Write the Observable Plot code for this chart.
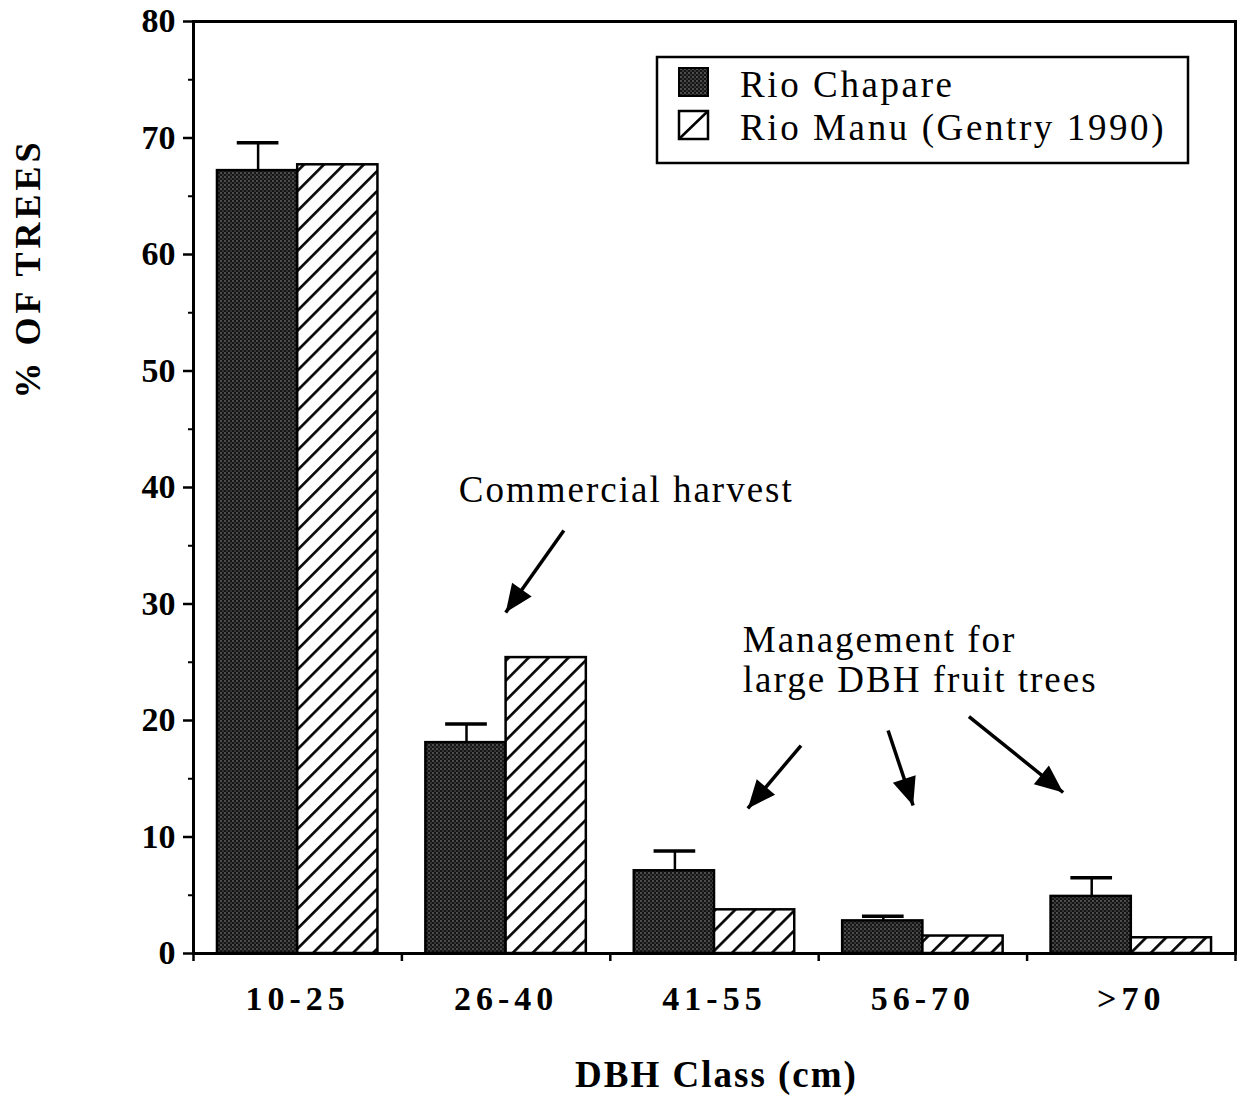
<!DOCTYPE html>
<html>
<head>
<meta charset="utf-8">
<script src="https://cdn.jsdelivr.net/npm/d3@7"></script>
<script src="https://cdn.jsdelivr.net/npm/@observablehq/plot@0.6"></script>
<style>
  body { margin: 0; background: #fff; }
  #wrap { position: relative; width: 1247px; height: 1099px; }
  #overlay { position: absolute; left: 0; top: 0; pointer-events: none; }
</style>
</head>
<body>
<div id="wrap"></div>
<script>
// ---- data ----
const categories = ["10-25", "26-40", "41-55", "56-70", ">70"];
const rioChapare = [67.2, 18.1, 7.1, 2.8, 4.9];
const rioChapareErr = [2.4, 1.6, 1.7, 0.4, 1.6];
const rioManu = [67.7, 25.4, 3.75, 1.5, 1.35];
const seriesNames = ["Rio Chapare", "Rio Manu (Gentry 1990)"];
const yMajorTicks = [0, 10, 20, 30, 40, 50, 60, 70, 80];
const yMinorTicks = [5, 15, 25, 35, 45, 55, 65, 75];
const xTitle = "DBH Class (cm)";
const yTitle = "% OF TREES";
const annotations = [
  { text: "Commercial harvest", x: 1.273, y: 41.2 },
  { text: "Management for\nlarge DBH fruit trees", x: 2.636, y: 28.33 }
];
const arrows = [
  { x1: 1.777, y1: 36.31, x2: 1.498, y2: 29.27 },
  { x1: 2.915, y1: 17.85, x2: 2.660, y2: 12.45 },
  { x1: 3.333, y1: 19.14, x2: 3.453, y2: 12.70 },
  { x1: 3.721, y1: 20.34, x2: 4.173, y2: 13.82 }
];

const rows = categories.map((c, i) => ({
  cat: c, i,
  chapare: rioChapare[i], err: rioChapareErr[i], manu: rioManu[i]
}));

const W = 1247, H = 1099;
const mL = 193, mR = 12, mT = 21, mB = 146;
const xDomain = [0, categories.length], yDomain = [0, 80];
// same linear mapping as the Plot scales (for arrow-head orientation)
const sx = d3.scaleLinear(xDomain, [mL, W - mR]);
const sy = d3.scaleLinear(yDomain, [H - mB, mT]);
arrows.forEach(a => {
  const dx = sx(a.x2) - sx(a.x1), dy = sy(a.y2) - sy(a.y1);
  a.angle = Math.atan2(dx, -dy) * 180 / Math.PI;
});
const headSymbol = {
  draw(ctx) { ctx.moveTo(0, 0); ctx.lineTo(-12, 28); ctx.lineTo(12, 28); ctx.closePath(); }
};

const serif = '"Liberation Serif", "Times New Roman", serif';

const plot = Plot.plot({
  width: W, height: H,
  marginLeft: mL, marginRight: mR, marginTop: mT, marginBottom: mB,
  style: { fontFamily: serif, color: "black", background: "white", overflow: "visible" },
  x: { domain: xDomain },
  y: { domain: yDomain },
  marks: [
    Plot.rect(rows, { x1: d => d.i + 0.115, x2: d => d.i + 0.5, y1: 0, y2: "chapare",
      fill: "url(#stipple)", stroke: "black", strokeWidth: 2.5 }),
    Plot.rect(rows, { x1: d => d.i + 0.5, x2: d => d.i + 0.885, y1: 0, y2: "manu",
      fill: "url(#hatch)", stroke: "black", strokeWidth: 2.5 }),
    Plot.ruleX(rows, { x: d => d.i + 0.31, y1: "chapare", y2: d => d.chapare + d.err, strokeWidth: 2.5 }),
    Plot.ruleY(rows, { y: d => d.chapare + d.err, x1: d => d.i + 0.21, x2: d => d.i + 0.41, strokeWidth: 3.5 }),
    Plot.frame({ stroke: "black", strokeWidth: 3 }),
    Plot.axisY(yMajorTicks, { tickSize: 10, tickPadding: 8, strokeWidth: 2.5, fontSize: 34,
      fontWeight: "bold", label: null }),
    Plot.axisY(yMinorTicks, { tickSize: 5, strokeWidth: 2, tickFormat: () => "", label: null }),
    Plot.axisX(d3.range(categories.length + 1), { tickSize: 8, strokeWidth: 2.5, tickFormat: () => "", label: null }),
    Plot.axisX(categories.map((c, i) => i + 0.5), { tickSize: 0, tickPadding: 32, fontSize: 34,
      fontWeight: "bold", tickFormat: d => categories[Math.floor(d)], label: null }),
    Plot.text([yTitle], { frameAnchor: "left", textAnchor: "middle", dx: -165, dy: -219, rotate: -90,
      fontSize: 36, fontWeight: "bold" }),
    Plot.text([xTitle], { frameAnchor: "bottom", textAnchor: "middle", lineAnchor: "middle", dx: 2, dy: 122,
      fontSize: 37, fontWeight: "bold" }),
    Plot.text(annotations, { x: "x", y: "y", text: "text", textAnchor: "start", lineAnchor: "top",
      fontSize: 37, lineHeight: 1.08 }),
    Plot.link(arrows, { x1: "x1", y1: "y1", x2: "x2", y2: "y2", stroke: "black", strokeWidth: 3.5 }),
    Plot.dot(arrows, { x: "x2", y: "y2", symbol: headSymbol, rotate: "angle", fill: "black", stroke: "none", r: 10 })
  ]
});

// letter spacing to mimic the wide typesetting of the original
d3.select(plot).selectAll('g[aria-label="x-axis tick label"] text').style("letter-spacing", "5px");
d3.select(plot).selectAll('g[aria-label="text"] text').each(function () {
  const t = this.textContent;
  const sp = (t === yTitle) ? "4px" : "2px";
  d3.select(this).style("letter-spacing", sp);
});

const wrap = document.getElementById("wrap");
wrap.appendChild(plot);

// legend + pattern definitions (overlay)
const ns = "http://www.w3.org/2000/svg";
const ov = d3.select(wrap).append("svg").attr("id", "overlay")
  .attr("xmlns", ns).attr("width", W).attr("height", H);
const defs = ov.append("defs");
const st = defs.append("pattern").attr("id", "stipple").attr("patternUnits", "userSpaceOnUse")
  .attr("width", 4).attr("height", 4);
st.append("rect").attr("width", 4).attr("height", 4).attr("fill", "#151515");
st.append("circle").attr("cx", 1).attr("cy", 1).attr("r", 0.75).attr("fill", "#a0a0a0");
st.append("circle").attr("cx", 3).attr("cy", 3).attr("r", 0.7).attr("fill", "#707070");
const ht = defs.append("pattern").attr("id", "hatch").attr("patternUnits", "userSpaceOnUse")
  .attr("width", 14.1).attr("height", 14.1).attr("patternTransform", "rotate(45)");
ht.append("rect").attr("width", 14.1).attr("height", 14.1).attr("fill", "white");
ht.append("line").attr("x1", 7).attr("y1", 0).attr("x2", 7).attr("y2", 14.1)
  .attr("stroke", "black").attr("stroke-width", 2.6);

const lg = ov.append("g");
lg.append("rect").attr("x", 657).attr("y", 57).attr("width", 531).attr("height", 106)
  .attr("fill", "white").attr("stroke", "black").attr("stroke-width", 2.5);
lg.append("rect").attr("x", 679).attr("y", 68).attr("width", 29).attr("height", 28)
  .attr("fill", "url(#stipple)").attr("stroke", "black").attr("stroke-width", 2);
lg.append("rect").attr("x", 679).attr("y", 111).attr("width", 29).attr("height", 28)
  .attr("fill", "white").attr("stroke", "black").attr("stroke-width", 2.5);
lg.append("line").attr("x1", 679).attr("y1", 139).attr("x2", 708).attr("y2", 111)
  .attr("stroke", "black").attr("stroke-width", 2.5);
seriesNames.forEach((s, k) => {
  lg.append("text").attr("x", 740).attr("y", 97 + 43 * k).text(s)
    .attr("font-family", serif).attr("font-size", 37).style("letter-spacing", "2.6px")
    .attr("fill", "black");
});
</script>
</body>
</html>
